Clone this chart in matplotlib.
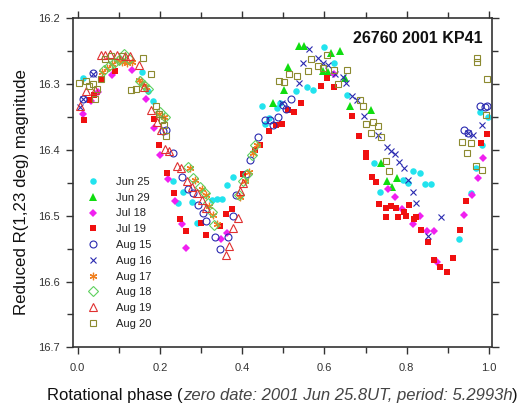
import matplotlib
matplotlib.use("Agg")
import matplotlib.pyplot as plt
import numpy as np

plt.rcParams['font.family'] = ['Liberation Sans', 'DejaVu Sans']

labels = ["Jun 25", "Jun 29", "Jul 18", "Jul 19", "Aug 15", "Aug 16", "Aug 17", "Aug 18", "Aug 19", "Aug 20"]

jun25_x = [0.012, 0.156, 0.170, 0.182, 0.231, 0.245, 0.257, 0.279, 0.289, 0.326, 0.339, 0.352, 0.364, 0.377,
           0.448, 0.455, 0.466, 0.484, 0.492, 0.530, 0.558, 0.572, 0.600, 0.624, 0.654, 0.720, 0.735, 0.792,
           0.804, 0.816, 0.831, 0.844, 0.858, 0.928, 0.955, 0.968, 0.978, 0.982, 0.998]
jun25_y = [16.290, 16.281, 16.310, 16.325, 16.448, 16.481, 16.464, 16.479, 16.511, 16.476, 16.475, 16.474, 16.453, 16.441,
           16.334, 16.361, 16.352, 16.337, 16.329, 16.311, 16.304, 16.309, 16.243, 16.268, 16.317, 16.420, 16.464, 16.446,
           16.450, 16.432, 16.435, 16.452, 16.452, 16.536, 16.466, 16.428, 16.343, 16.393, 16.350]

jun29_x = [0.476, 0.502, 0.512, 0.538, 0.550, 0.596, 0.608, 0.616, 0.638, 0.650, 0.662, 0.714, 0.737, 0.751, 0.763, 0.777]
jun29_y = [16.328, 16.309, 16.274, 16.242, 16.242, 16.280, 16.281, 16.253, 16.249, 16.291, 16.333, 16.340, 16.420, 16.448, 16.456, 16.442]

jul18_x = [0.014, 0.033, 0.049, 0.083, 0.132, 0.166, 0.185, 0.200, 0.219, 0.237, 0.253, 0.263, 0.348, 0.362, 0.622,
           0.755, 0.771, 0.788, 0.816, 0.832, 0.850, 0.866, 0.873, 0.939, 0.958, 0.974, 0.986]
jul18_y = [16.345, 16.326, 16.312, 16.286, 16.279, 16.323, 16.366, 16.407, 16.444, 16.477, 16.512, 16.549, 16.535, 16.527, 16.285,
           16.460, 16.472, 16.490, 16.512, 16.500, 16.523, 16.523, 16.571, 16.499, 16.469, 16.442, 16.413]

jul19_x = [0.015, 0.031, 0.039, 0.058, 0.091, 0.185, 0.198, 0.216, 0.234, 0.249, 0.263, 0.299, 0.312, 0.346, 0.360, 0.376,
           0.403, 0.432, 0.443, 0.466, 0.481, 0.496, 0.512, 0.527, 0.542, 0.592, 0.606, 0.622,
           0.666, 0.683, 0.700, 0.702, 0.716, 0.726, 0.732, 0.750, 0.750, 0.762, 0.775, 0.779, 0.793, 0.799, 0.805,
           0.818, 0.822, 0.835, 0.852, 0.866, 0.882, 0.897, 0.913, 0.930, 0.944, 0.980, 0.994]
jul19_y = [16.355, 16.324, 16.317, 16.293, 16.280, 16.353, 16.393, 16.435, 16.466, 16.505, 16.523, 16.511, 16.529, 16.516, 16.498, 16.490,
           16.436, 16.400, 16.393, 16.371, 16.362, 16.361, 16.339, 16.342, 16.329, 16.303, 16.291, 16.305,
           16.349, 16.379, 16.404, 16.411, 16.441, 16.449, 16.482, 16.489, 16.502, 16.485, 16.489, 16.502, 16.495, 16.500, 16.484,
           16.505, 16.502, 16.522, 16.540, 16.567, 16.578, 16.586, 16.565, 16.522, 16.477, 16.390, 16.376]

aug15_x = [0.012, 0.038, 0.208, 0.215, 0.232, 0.253, 0.269, 0.281, 0.293, 0.304, 0.313, 0.333, 0.345, 0.365, 0.377, 0.385,
           0.409, 0.419, 0.439, 0.456, 0.468, 0.474, 0.488, 0.500, 0.506, 0.518, 0.940, 0.948, 0.978, 0.990, 0.996]
aug15_y = [16.322, 16.283, 16.372, 16.369, 16.405, 16.441, 16.460, 16.466, 16.484, 16.496, 16.508, 16.533, 16.550, 16.533, 16.501, 16.468,
           16.436, 16.415, 16.380, 16.355, 16.355, 16.362, 16.350, 16.332, 16.338, 16.322, 16.370, 16.374, 16.333, 16.335, 16.333]

aug16_x = [0.006, 0.012, 0.038, 0.496, 0.539, 0.548, 0.562, 0.584, 0.596, 0.608, 0.625, 0.644, 0.652, 0.668, 0.680, 0.696,
           0.730, 0.753, 0.762, 0.771, 0.781, 0.794, 0.804, 0.814, 0.823, 0.851, 0.884, 0.950, 0.960, 0.982]
aug16_y = [16.335, 16.322, 16.284, 16.328, 16.299, 16.268, 16.246, 16.260, 16.268, 16.271, 16.284, 16.289, 16.299, 16.318, 16.324, 16.348,
           16.377, 16.395, 16.401, 16.406, 16.418, 16.428, 16.446, 16.464, 16.480, 16.531, 16.502, 16.374, 16.377, 16.362]

aug17_x = [0.059, 0.071, 0.083, 0.095, 0.108, 0.120, 0.132, 0.148, 0.156, 0.166, 0.198, 0.209, 0.272, 0.285, 0.301,
           0.312, 0.320, 0.330, 0.338, 0.395, 0.407, 0.417, 0.427, 0.435]
aug17_y = [16.281, 16.276, 16.269, 16.264, 16.267, 16.268, 16.266, 16.294, 16.298, 16.304, 16.345, 16.350, 16.428, 16.446, 16.459,
           16.469, 16.486, 16.499, 16.512, 16.472, 16.447, 16.433, 16.405, 16.393]

aug18_x = [0.063, 0.075, 0.087, 0.100, 0.112, 0.124, 0.152, 0.160, 0.171, 0.201, 0.213, 0.269, 0.281, 0.297, 0.309,
           0.317, 0.326, 0.331, 0.393, 0.403, 0.412, 0.423, 0.430]
aug18_y = [16.278, 16.273, 16.268, 16.264, 16.255, 16.262, 16.296, 16.301, 16.308, 16.343, 16.350, 16.426, 16.443, 16.456, 16.466,
           16.481, 16.494, 16.514, 16.469, 16.448, 16.436, 16.408, 16.392]

aug19_x = [0.006, 0.020, 0.043, 0.057, 0.067, 0.079, 0.095, 0.116, 0.128, 0.148, 0.160, 0.177, 0.193, 0.203, 0.212, 0.222,
           0.241, 0.250, 0.265, 0.277, 0.289, 0.301, 0.313, 0.361, 0.369, 0.378, 0.389, 0.395, 0.403]
aug19_y = [16.333, 16.310, 16.309, 16.256, 16.256, 16.254, 16.256, 16.257, 16.258, 16.271, 16.305, 16.339, 16.357, 16.369, 16.398, 16.402,
           16.424, 16.428, 16.448, 16.456, 16.466, 16.476, 16.489, 16.560, 16.546, 16.518, 16.503, 16.463, 16.451]

aug20_x = [0.004, 0.019, 0.027, 0.036, 0.042, 0.047, 0.057, 0.067, 0.082, 0.108, 0.130, 0.142, 0.158, 0.179, 0.190, 0.198,
           0.205, 0.209, 0.215, 0.490, 0.502, 0.514, 0.532, 0.560, 0.568, 0.584, 0.596, 0.606, 0.622, 0.634, 0.654,
           0.686, 0.694, 0.700, 0.712, 0.718, 0.730, 0.738, 0.750, 0.758, 0.935, 0.946, 0.955, 0.968, 0.984, 0.970,
           0.970, 0.995, 0.992]
aug20_y = [16.299, 16.295, 16.303, 16.300, 16.323, 16.308, 16.293, 16.262, 16.257, 16.257, 16.309, 16.308, 16.261, 16.285, 16.334, 16.345,
           16.355, 16.362, 16.379, 16.295, 16.297, 16.284, 16.288, 16.280, 16.262, 16.272, 16.276, 16.256, 16.279, 16.300, 16.278,
           16.324, 16.333, 16.361, 16.374, 16.358, 16.363, 16.380, 16.417, 16.432, 16.388, 16.404, 16.389, 16.424, 16.431, 16.261,
           16.267, 16.292, 16.347]

series = [
    (jun25_x, jun25_y, dict(marker='o', color='#22E3EE', mfc='#22E3EE', ms=4.7, mew=0)),
    (jun29_x, jun29_y, dict(marker='^', color='#10DD10', mfc='#10DD10', ms=6.0, mew=0)),
    (jul18_x, jul18_y, dict(marker='D', color='#F020F0', mfc='#F020F0', ms=4.5, mew=0)),
    (jul19_x, jul19_y, dict(marker='s', color='#F01010', mfc='#F01010', ms=4.9, mew=0)),
    (aug15_x, aug15_y, dict(marker='o', color='#2A2AB0', mfc='none', ms=5.0, mew=0.8)),
    (aug16_x, aug16_y, dict(marker='x', color='#2A2AB0', ms=5.0, mew=0.8)),
    (aug17_x, aug17_y, dict(marker=(6, 2, 0), color='#F08020', ms=5.4, mew=0.9)),
    (aug18_x, aug18_y, dict(marker='D', color='#5ED05E', mfc='none', ms=5.4, mew=0.8)),
    (aug19_x, aug19_y, dict(marker='^', color='#E03030', mfc='none', ms=6.0, mew=0.8)),
    (aug20_x, aug20_y, dict(marker='s', color='#8C8A30', mfc='none', ms=5.0, mew=0.8)),
]

fig = plt.figure(figsize=(5.29, 4.11), dpi=100)
ax = fig.add_axes([72.7 / 529, 1 - 347.3 / 411, 419.6 / 529, 329.0 / 411])

handles = []
for (xs, ys, st), lab in zip(series, labels):
    h, = ax.plot(xs, ys, linestyle='none', label=lab, **st)
    handles.append(h)

ax.set_xlim(-0.0122, 1.008)
ax.set_ylim(16.7, 16.2)
ax.set_xticks(np.arange(0, 1.01, 0.2))
ax.set_xticks(np.arange(0.1, 1.0, 0.2), minor=True)
ax.set_xticklabels(['0.0', '0.2', '0.4', '0.6', '0.8', '1.0'])
ax.set_yticks([16.2, 16.3, 16.4, 16.5, 16.6, 16.7])
ax.set_yticks(np.arange(16.25, 16.7, 0.1), minor=True)
ax.set_yticklabels(['16.2', '16.3', '16.4', '16.5', '16.6', '16.7'])
ax.tick_params(which='both', direction='out', top=True, right=True, labeltop=False, labelright=False,
               color='#333333', width=1.0)
ax.tick_params(which='major', length=5, labelsize=8, labelcolor='#333333')
ax.tick_params(which='minor', length=4)
ax.tick_params(axis='x', which='major', pad=6)
ax.tick_params(axis='y', which='major', pad=4)
for s in ax.spines.values():
    s.set_color('#333333')
    s.set_linewidth(1.2)

ax.text(0.978, 0.940, '26760 2001 KP41', transform=ax.transAxes, ha='right', va='center',
        fontsize=11.5, fontweight='bold', color='#111111')

leg = ax.legend(handles=handles, loc='upper left', bbox_to_anchor=(0.035, 0.518), frameon=False,
                fontsize=8, handlelength=1.0, handletextpad=1.55, labelspacing=0.52,
                borderpad=0, borderaxespad=0, numpoints=1)
for t in leg.get_texts():
    t.set_color('#222222')

fig.text(22 / 529, 1 - 192 / 411, 'Reduced R(1,23 deg) magnitude', rotation=90, ha='center', va='center',
         fontsize=12.2, color='#111111')

# composite x label
fig.canvas.draw()
renderer = fig.canvas.get_renderer()
ypos = 1 - 395 / 411
xpos = 47 / 529
pieces = [("Rotational phase ", dict(fontsize=12, color='#111111')),
          ("(", dict(fontsize=12, color='#111111')),
          ("zero date: 2001 Jun 25.8UT, period: 5.2993h", dict(fontsize=12, color='#444444', style='italic')),
          (")", dict(fontsize=12, color='#111111'))]
for txt, kw in pieces:
    t = fig.text(xpos, ypos, txt, ha='left', va='center', **kw)
    bb = t.get_window_extent(renderer=renderer)
    xpos = bb.x1 / fig.bbox.width

fig.savefig('out.png', dpi=100)
